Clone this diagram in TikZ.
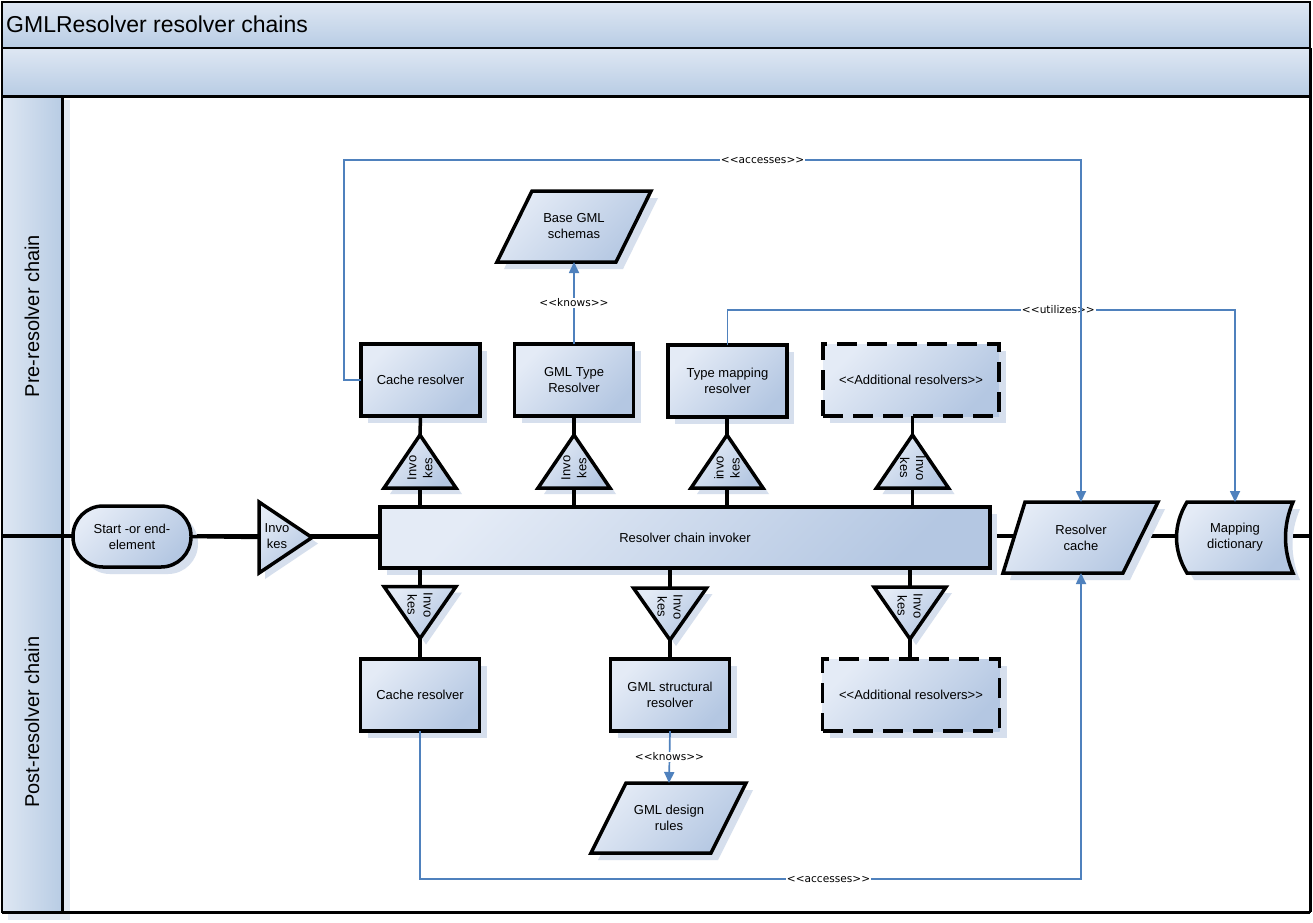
\documentclass[tikz,border=0pt]{standalone}
\usepackage{fontspec}
\setmainfont{Liberation Sans}[Ligatures=TeXOff]
\newfontfamily\lblfont{DejaVu Sans}[Ligatures=TeXOff]
\usetikzlibrary{shadows,arrows.meta}
\definecolor{lite}{RGB}{228,235,246}
\definecolor{dark}{RGB}{180,199,226}
\definecolor{shc}{RGB}{214,223,237}
\definecolor{blu}{RGB}{79,129,189}
\definecolor{bandtop}{RGB}{222,231,243}
\definecolor{bandbot}{RGB}{184,204,228}
\tikzset{
  anc/.style={draw=none, fill=none, inner sep=0pt, outer sep=0pt, align=center, font=\fontsize{13}{16}\selectfont},
  box/.style={draw=black, line width=3.5pt, top color=lite, bottom color=dark, shading angle=45,
    minimum width=119pt, minimum height=72pt, inner sep=2pt, outer sep=0pt, align=center,
    font=\fontsize{13}{16}\selectfont, general shadow={fill=shc, shadow xshift=7pt, shadow yshift=-7pt}},
  dbox/.style={dash pattern=on 20pt off 10pt},
  tri/.style={draw=black, line width=3.5pt, top color=lite, bottom color=dark, shading angle=45},
  shd/.style={fill=shc},
  tt/.style={inner sep=0pt, align=center, font=\fontsize{13}{16}\selectfont},
  conn/.style={draw=black, line width=3.5pt},
  bl/.style={draw=blu, line width=1.7pt, -{Triangle[length=11pt,width=10pt]}},
  lbl/.style={fill=white, inner sep=1pt, text=black, font=\lblfont\fontsize{10.6}{12}\selectfont},
}
\newcommand\TriUp[1]{%
  \fill[shd] ([shift={(6,6)}]#1.north) -- ([shift={(6,6)}]#1.south east) -- ([shift={(6,6)}]#1.south west) -- cycle;
  \draw[tri] (#1.north) -- (#1.south east) -- (#1.south west) -- cycle;}
\newcommand\TriDown[1]{%
  \fill[shd] ([shift={(6,6)}]#1.south) -- ([shift={(6,6)}]#1.north east) -- ([shift={(6,6)}]#1.north west) -- cycle;
  \draw[tri] (#1.south) -- (#1.north east) -- (#1.north west) -- cycle;}
\newcommand\TriRight[1]{%
  \fill[shd] ([shift={(6,6)}]#1.east) -- ([shift={(6,6)}]#1.south west) -- ([shift={(6,6)}]#1.north west) -- cycle;
  \draw[tri] (#1.east) -- (#1.south west) -- (#1.north west) -- cycle;}
\begin{document}
\begin{tikzpicture}[x=1pt,y=-1pt]
\useasboundingbox (0,0) rectangle (1313,922);
\fill[white] (0,0) rectangle (1313,922);
% shadows of the frame
\fill[shc!70] (62,100) rectangle (70,920);
\fill[shc!70] (8,912) rectangle (70,920);
% bands
\shade[top color=bandtop, bottom color=bandbot] (2,2) rectangle (1310,48);
\shade[top color=bandtop, bottom color=bandbot] (2,48) rectangle (1310,96);
\shade[left color=bandtop, right color=bandbot] (2,96) rectangle (62,912);
\draw[line width=2pt] (2,2) rectangle (1310,912);
\draw[line width=2pt] (2,48) -- (1310,48);
\draw[line width=3pt] (2,96) -- (1310,96);
\draw[line width=3pt] (62,96) -- (62,912);
\draw[line width=3pt] (1310,48) -- (1310,912);
\draw[line width=3pt] (2,912) -- (1310,912);
\draw[line width=3.5pt] (2,536) -- (1310,536);
% titles
\node[anchor=west, inner sep=0pt, font=\fontsize{23}{27}\selectfont] (title) at (6,24) {GMLResolver resolver chains};
\node[rotate=90, inner sep=0pt, font=\fontsize{20}{24}\selectfont] (lanepre) at (32,316) {Pre-resolver chain};
\node[rotate=90, inner sep=0pt, font=\fontsize{20}{24}\selectfont] (lanepost) at (32,722) {Post-resolver chain};
% triangle anchors
\node[anc, minimum width=72pt, minimum height=53pt] (tu1) at (420,461.5) {};
\node[anc, minimum width=72pt, minimum height=53pt] (tu2) at (574,461.5) {};
\node[anc, minimum width=72pt, minimum height=53pt] (tu3) at (727,461.5) {};
\node[anc, minimum width=72pt, minimum height=53pt] (tu4) at (912.5,461.5) {};
\node[anc, minimum width=72pt, minimum height=52pt] (td1) at (420,612.5) {};
\node[anc, minimum width=73pt, minimum height=52pt] (td2) at (670,614) {};
\node[anc, minimum width=72pt, minimum height=52pt] (td3) at (910,613) {};
\node[anc, minimum width=53pt, minimum height=71pt] (tl) at (285.5,537.5) {};
\TriUp{tu1}\TriUp{tu2}\TriUp{tu3}\TriUp{tu4}
\TriDown{td1}\TriDown{td2}\TriDown{td3}
\TriRight{tl}
\node[tt, rotate=90] (tu1t) at (420,468) {Invo\\kes};
\node[tt, rotate=90] (tu2t) at (574,468) {Invo\\kes};
\node[tt, rotate=90] (tu3t) at (727,468) {invo\\kes};
\node[tt, rotate=-90] (tu4t) at (912.5,468) {Invo\\kes};
\node[tt, rotate=-90] (td1t) at (420,605) {Invo\\kes};
\node[tt, rotate=-90] (td2t) at (670,607) {Invo\\kes};
\node[tt, rotate=-90] (td3t) at (910,606) {Invo\\kes};
\node[tt] (tlt) at (277,536) {Invo\\kes};
% parallelograms and stored data
\fill[shd] (539,198) -- (658,198) -- (623,269) -- (504,269) -- cycle;
\draw[tri] (532,191) -- (651,191) -- (616,262) -- (497,262) -- cycle;
\node[anc, minimum width=119pt, minimum height=71pt] (bg) at (574,226.5) {Base GML\\schemas};
\fill[shd] (633,790) -- (753,790) -- (718,860) -- (598,860) -- cycle;
\draw[tri] (626,783) -- (746,783) -- (711,853) -- (591,853) -- cycle;
\node[anc, minimum width=119pt, minimum height=70pt] (gd) at (669,818) {GML design\\rules};
\fill[shd] (1032,509) -- (1165,509) -- (1130,580) -- (1010,580) -- cycle;
\draw[tri] (1025,502) -- (1158,502) -- (1123,573) -- (1003,573) -- cycle;
\node[anc, minimum width=120pt, minimum height=71pt] (rc) at (1081,537.5) {Resolver\\cache};
\begin{scope}[shift={(7,7)}]
\fill[shd] (1187,502) -- (1293,502) .. controls (1283,525) and (1283,550) .. (1293,573) -- (1187,573) .. controls (1173,550) and (1173,525) .. (1187,502) -- cycle;
\end{scope}
\draw[tri] (1187,502) -- (1293,502) .. controls (1283,525) and (1283,550) .. (1293,573) -- (1187,573) .. controls (1173,550) and (1173,525) .. (1187,502) -- cycle;
\node[anc, minimum width=110pt, minimum height=71pt] (md) at (1235,537.5) {Mapping\\dictionary};
% boxes
\node[box] (cr1) at (420.5,380) {Cache resolver};
\node[box] (gt) at (574,380) {GML Type\\Resolver};
\node[box] (tm) at (727.5,381) {Type mapping\\resolver};
\node[box, dbox, minimum width=176pt] (ar1) at (911,380) {<<Additional resolvers>>};
\node[box] (cr2) at (420,695) {Cache resolver};
\node[box] (gs) at (670,695) {GML structural\\resolver};
\node[box, dbox, minimum width=177pt] (ar2) at (911,695) {<<Additional resolvers>>};
\node[box, minimum width=610pt, minimum height=61pt] (inv) at (685,537.5) {Resolver chain invoker};
\node[box, minimum width=118pt, minimum height=61pt, rounded corners=30pt] (start) at (132,536.5) {Start -or end-\\element};
% black connectors
\draw[conn] (cr1.south) -- (tu1.north);
\draw[conn] (tu1.south) -- (tu1.south |- inv.north);
\draw[conn] (gt.south) -- (tu2.north);
\draw[conn] (tu2.south) -- (tu2.south |- inv.north);
\draw[conn] (tm.south -| tu3.north) -- (tu3.north);
\draw[conn] (tu3.south) -- (tu3.south |- inv.north);
\draw[conn] (ar1.south -| tu4.north) -- (tu4.north);
\draw[conn] (tu4.south) -- (tu4.south |- inv.north);
\draw[conn] (td1.north |- inv.south) -- (td1.north);
\draw[conn] (td1.south) -- (td1.south |- cr2.north);
\draw[conn] (td2.north |- inv.south) -- (td2.north);
\draw[conn] (td2.south) -- (gs.north);
\draw[conn] (td3.north |- inv.south) -- (td3.north);
\draw[conn] (td3.south) -- (td3.south |- ar2.north);
\draw[conn] (start.east) -- (tl.west);
\draw[conn] (tl.east) -- (inv.west);
% blue connectors
\draw[bl] (tm.north) |- node[lbl, pos=0.826] {<<utilizes>>} (md.north |- 0,310) -- (md.north);
\draw[bl] (cr1.west) -- ++(-17,0) |- node[lbl, pos=0.784] {<<accesses>>} (rc.north |- 0,160) -- (rc.north);
\draw[bl] (gt.north) -- node[lbl] {<<knows>>} (bg.south);
\draw[bl] (cr2.south) |- node[lbl, pos=0.809] {<<accesses>>} (rc.south |- 0,879) -- (rc.south);
\draw[bl] (gs.south) -- node[lbl] {<<knows>>} (gd.north);
\end{tikzpicture}
\end{document}
